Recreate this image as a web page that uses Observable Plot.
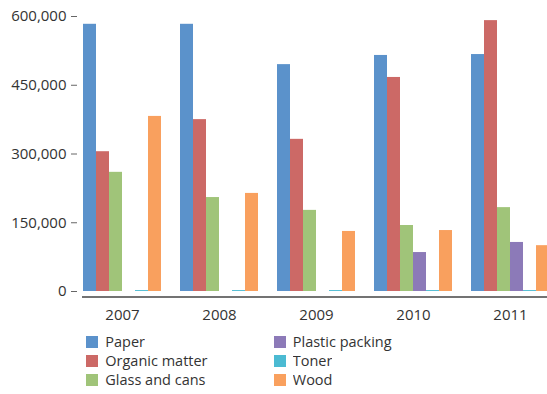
<!DOCTYPE html>
<html>
<head>
<meta charset="utf-8">
<script src="https://cdn.jsdelivr.net/npm/d3@7"></script>
<script src="https://cdn.jsdelivr.net/npm/@observablehq/plot@0.6"></script>
<style>
  html, body { margin: 0; padding: 0; background: #fff; overflow: hidden; }
  #chart { width: 547px; font-family: "Open Sans", sans-serif; }
  #chart svg { overflow: hidden; }
  #legend { margin: 3px 0 0 86px; width: 360px; font-size: 14.5px; color: #333; font-family: "Open Sans", sans-serif; }
  #legend div { line-height: 18px; font-size: 14.5px; }
</style>
</head>
<body>
<div id="chart"></div>
<script>
// Waste collected per year, by material
const years = ["2007", "2008", "2009", "2010", "2011"];
const materials = ["Paper", "Organic matter", "Glass and cans", "Plastic packing", "Toner", "Wood"];
const colors = ["#5b92cb", "#cc6966", "#a0c479", "#8c7ab8", "#4bbad2", "#f9a05e"];

const paper = [583000, 583000, 495000, 515000, 517000];
const organic = [305000, 375000, 332000, 467000, 591000];
const glass = [260000, 205000, 177000, 144000, 183000];
const plastic = [0, 0, 0, 85000, 107000];
const toner = [2000, 2000, 2000, 2000, 2000];
const wood = [382000, 214000, 131000, 133000, 100000];

const yTicks = [0, 150000, 300000, 450000, 600000];

const series = [paper, organic, glass, plastic, toner, wood];
const rows = years.flatMap((year, i) =>
  materials.map((material, j) => ({year, material, value: series[j][i]}))
);

const fmt = d3.format(",");

const chart = Plot.plot({
  width: 547,
  height: 330,
  marginTop: 16,
  marginBottom: 39,
  marginLeft: 83,
  marginRight: 0,
  style: {fontFamily: "Open Sans, sans-serif", fontSize: "15px", color: "#333", background: "#fff"},
  fx: {domain: years, range: [83, 549], paddingInner: 19 / 97, paddingOuter: 0, label: null, axis: null},
  x: {domain: materials, padding: 0, axis: null},
  y: {domain: [0, 600000], label: null, axis: null},
  color: {domain: materials, range: colors},
  marks: [
    Plot.barY(rows, {fx: "year", x: "material", y: "value", fill: "material"}),
    Plot.axisY({ticks: yTicks, tickFormat: fmt, tickSize: 6, tickPadding: 5, dx: -6, stroke: "#666", fill: "#333", label: null, facetAnchor: "left"}),
    Plot.axisFx({anchor: "bottom", tickSize: 0, tickPadding: 18, fill: "#333", label: null})
  ]
});

// Baseline under the bars, spanning the whole plot width
const y0 = chart.scale("y").apply(0) + 6;
d3.select(chart).append("line")
  .attr("x1", 82).attr("x2", 547)
  .attr("y1", y0).attr("y2", y0)
  .attr("stroke", "#444").attr("stroke-width", 1.3);

document.getElementById("chart").append(chart);

const legend = chart.legend("color", {columns: "171px", swatchSize: 12, style: {fontSize: "14.5px", fontFamily: "Open Sans, sans-serif", color: "#333"}});
legend.id = "legend";
document.getElementById("chart").append(legend);
</script>
</body>
</html>
